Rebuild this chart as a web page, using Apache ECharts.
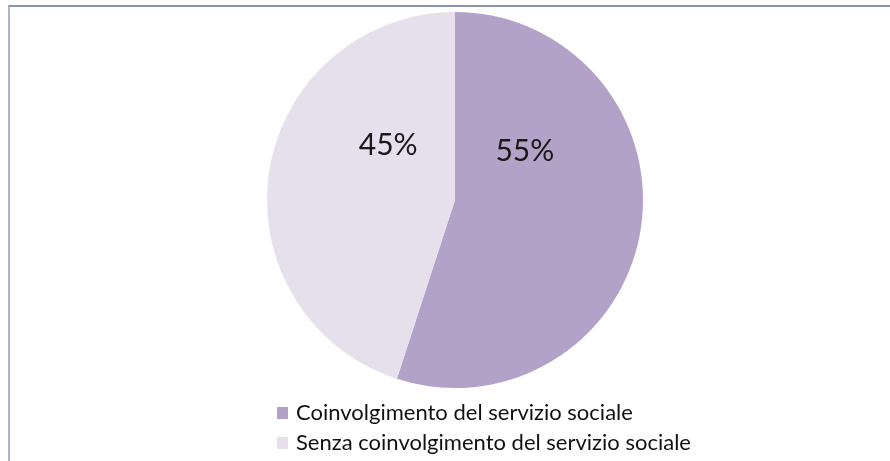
<!DOCTYPE html>
<html><head><meta charset="utf-8">
<script src="https://cdn.jsdelivr.net/npm/echarts@6/dist/echarts.min.js"></script>
<style>html,body{margin:0;padding:0;background:#fff;}#c{width:890px;height:461px;position:relative;}
#frame{position:absolute;left:8px;top:5px;width:900px;height:470px;border-left:2px solid #a9b3cf;border-top:2px solid #8893b6;box-sizing:border-box;pointer-events:none;}</style>
</head><body><div id="c"></div><div id="frame" style="position:absolute;"></div>
<script>
const categories = ['Coinvolgimento del servizio sociale', 'Senza coinvolgimento del servizio sociale'];
const values = [55, 45];
const colors = ['#b3a2c7', '#e6e0ec'];
const labelShift = [[-26, -65], [29, -40]];

const chart = echarts.init(document.getElementById('c'));
chart.setOption({
  animation: false,
  backgroundColor: '#fff',
  color: colors,
  legend: {
    orient: 'vertical', left: 277, top: 402, height: 120, width: 560,
    padding: 0,
    itemWidth: 11, itemHeight: 12, itemGap: 8,
    icon: 'rect',
    textStyle: { fontFamily: 'Lato', fontSize: 22, color: '#111', lineHeight: 22, padding: [0, 0, 0, 3] },
    data: categories
  },
  series: [{
    type: 'pie',
    center: [455, 200],
    radius: [0, 188],
    startAngle: 90,
    clockwise: true,
    silent: true,
    label: {
      show: true, position: 'inside',
      formatter: '{c}%',
      fontFamily: 'Lato', fontSize: 30, color: '#1a1a1a'
    },
    labelLine: { show: false },
    itemStyle: { borderWidth: 0 },
    labelLayout: function (p) { const s = labelShift[p.dataIndex]; return { dx: s[0], dy: s[1] + 1 }; },
    data: categories.map((n, i) => ({ name: n, value: values[i] }))
  }]
});
</script>
</body></html>
